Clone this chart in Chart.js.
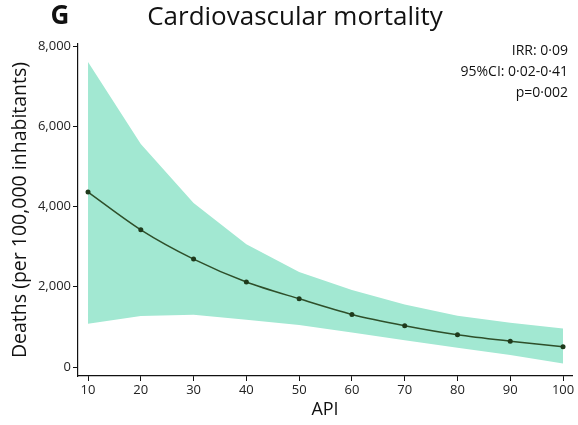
<!DOCTYPE html>
<html>
<head>
<meta charset="utf-8">
<script src="https://cdn.jsdelivr.net/npm/chart.js@4/dist/chart.umd.min.js"></script>
<style>
  html, body { margin: 0; padding: 0; background: #fff; }
  #wrap { width: 578px; height: 425px; position: relative; }
</style>
</head>
<body>
<div id="wrap"><canvas id="grafica" width="578" height="425"></canvas></div>
<script>
// datos
const api = [10, 20, 30, 40, 50, 60, 70, 80, 90, 100];
const muertes = [4360, 3420, 2690, 2120, 1700, 1310, 1030, 805, 645, 505];
const icSuperior = [7600, 5560, 4090, 3060, 2370, 1920, 1560, 1280, 1100, 960];
const icInferior = [1080, 1270, 1300, 1180, 1050, 860, 670, 480, 300, 90];
const ticksY = [0, 2000, 4000, 6000, 8000];
const ticksX = [10, 20, 30, 40, 50, 60, 70, 80, 90, 100];
const notas = ['IRR: 0·09', '95%CI: 0·02-0·41', 'p=0·002'];

const fuente = '"Open Sans", "Noto Sans", sans-serif';
const pares = (ys) => api.map((x, i) => ({ x: x, y: ys[i] }));

const textos = {
  id: 'textos',
  afterDraw(chart) {
    const c = chart.ctx;
    c.save();
    c.fillStyle = '#111';
    c.textBaseline = 'middle';
    c.font = 'bold 26px ' + fuente;
    c.textAlign = 'center';
    c.fillText('G', 60, 17);
    c.font = '26px ' + fuente;
    c.fillText('Cardiovascular mortality', 295, 18);
    c.font = '14px ' + fuente;
    c.textAlign = 'right';
    notas.forEach((t, i) => c.fillText(t, 568, 51 + i * 21));
    c.restore();
  }
};

const ctx = document.getElementById('grafica').getContext('2d');
const chart = new Chart(ctx, {
  type: 'line',
  data: {
    datasets: [
      {
        label: 'Muertes',
        data: pares(muertes),
        borderColor: '#2e4f2a',
        borderWidth: 1.5,
        pointRadius: 2.5,
        pointBackgroundColor: '#1f3a1c',
        pointBorderWidth: 0,
        fill: false,
        tension: 0.3,
        order: 0
      },
      {
        label: 'IC superior',
        data: pares(icSuperior),
        borderWidth: 0,
        pointRadius: 0,
        backgroundColor: '#a2e8d2',
        fill: '+1',
        tension: 0,
        order: 1
      },
      {
        label: 'IC inferior',
        data: pares(icInferior),
        borderWidth: 0,
        pointRadius: 0,
        fill: false,
        tension: 0,
        order: 2
      }
    ]
  },
  plugins: [textos],
  options: {
    responsive: false,
    animation: false,
    layout: { padding: { top: 44, right: 6, left: 0, bottom: 0 } },
    plugins: {
      legend: { display: false },
      tooltip: { enabled: false }
    },
    scales: {
      x: {
        type: 'linear',
        min: 8.1,
        max: 101.7,
        afterBuildTicks: (s) => { s.ticks = ticksX.map(v => ({ value: v })); },
        afterFit: (s) => { s.height = 49; },
        border: { display: true, color: '#111', width: 1.2 },
        grid: { drawOnChartArea: false, drawTicks: true, tickLength: 5, color: '#111', lineWidth: 1 },
        ticks: { color: '#222', font: { family: fuente, size: 13 }, padding: 1, maxRotation: 0 },
        title: { display: true, text: 'API', color: '#111', font: { family: fuente, size: 18 }, padding: { top: 0 } }
      },
      y: {
        min: -224,
        max: 8050,
        afterBuildTicks: (s) => { s.ticks = ticksY.map(v => ({ value: v })); },
        afterFit: (s) => { s.width = 78; },
        border: { display: true, color: '#111', width: 1.2 },
        grid: { drawOnChartArea: false, drawTicks: true, tickLength: 5, color: '#111', lineWidth: 1 },
        ticks: {
          color: '#222', font: { family: fuente, size: 13 }, padding: 2,
          callback: (v) => v.toLocaleString('en-US')
        },
        title: { display: true, text: 'Deaths (per 100,000 inhabitants)', color: '#111', font: { family: fuente, size: 19.5 }, padding: { top: 9, bottom: 0 } }
      }
    }
  }
});
</script>
</body>
</html>
